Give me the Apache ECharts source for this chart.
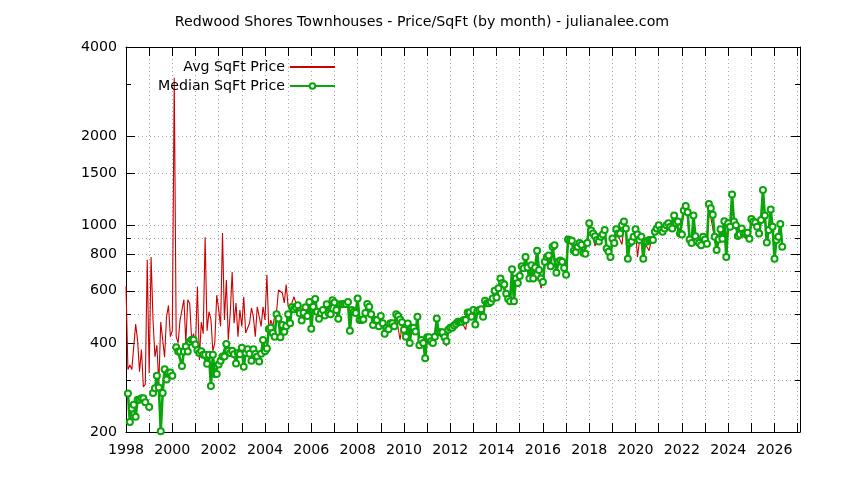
<!DOCTYPE html>
<html><head><meta charset="utf-8">
<script src="https://cdn.jsdelivr.net/npm/echarts@6/dist/echarts.min.js"></script>
<style>html,body{margin:0;padding:0;background:#fff}#c{width:844px;height:480px}</style>
</head><body><div id="c"></div>
<script>
const FONT = 'DejaVu Sans';
const startYear = 1998;
// monthly values, Jan 1998 onward
const avgPrice = [
 620, 325, 337, 325, 329, 463, 409, 320, 380, 284, 290, 764,
 316, 780, 478, 359, 393, 290, 471, 478, 358, 490, 535, 420,
 440, 3150, 420, 400, 478, 478, 560, 400, 560, 545, 410, 430,
 390, 620, 350, 470, 430, 910, 440, 510, 480, 375, 400, 580,
 520, 455, 940, 478, 653, 409, 504, 694, 466, 546, 420, 517,
 455, 573, 432, 432, 466, 525, 490, 420, 530, 525, 455, 530,
 478, 680, 440, 478, 455, 490, 510, 604, 610, 590, 546, 630,
 530, 525, 546, 573, 546, 530, 546, 510, 530, 504, 546, 558,
 460, 520, 555, 500, 490, 510, 505, 500, 530, 510, 505, 550,
 540, 520, 490, 530, 535, 540, 535, 545, 455, 530, 520, 500,
 555, 490, 480, 485, 500, 535, 520, 495, 465, 470, 480, 450,
 485, 460, 425, 445, 440, 460, 470, 450, 490, 485, 410, 455,
 409, 430, 455, 405, 445, 445, 430, 480, 395, 405, 395, 360,
 410, 415, 400, 395, 415, 470, 430, 420, 430, 415, 390, 435,
 440, 445, 455, 460, 465, 468, 470, 472, 443, 500, 500, 485,
 510, 465, 505, 510, 515, 492, 545, 540, 540, 545, 560, 590,
 565, 600, 640, 625, 620, 580, 560, 545, 680, 550, 640, 620,
 660, 700, 700, 760, 705, 650, 715, 650, 700, 790, 690, 612,
 640, 735, 770, 775, 720, 830, 840, 690, 745, 750, 740, 710,
 675, 870, 870, 860, 815, 800, 830, 860, 850, 800, 790, 860,
 990, 940, 920, 850, 880, 870, 900, 915, 945, 830, 760, 775,
 880, 860, 950, 920, 925, 860, 1000, 960, 765, 855, 870, 900,
 950, 781, 880, 900, 770, 865, 870, 820, 880, 885, 935, 960,
 985, 950, 940, 960, 985, 1000, 975, 965, 1050, 1000, 1010, 925,
 920, 1100, 1130, 1060, 885, 860, 1060, 905, 870, 860, 845, 900,
 880, 855, 1150, 1060, 1070, 900, 815, 880, 950, 890, 1010, 780,
 1000, 975, 1240, 1015, 985, 910, 920, 960, 925, 900, 930, 890,
 1030, 1015, 1000, 975, 925, 1025, 1280, 1060, 865, 950, 1110, 975,
 770, 880, 900, 990, 840
];
const medianPrice = [
 null, 270, 216, 240, 247, 225, 257, 257, 260, 260, 252, null,
 243, null, 271, 281, 310, 283, 201, 271, 326, 301, 317, 318,
 310, null, 387, 374, 374, 334, 374, 389, 374, 404, 410, 410,
 395, 378, 370, 375, 365, 365, 340, 365, 286, 365, 314, 314,
 338, 348, 360, 360, 397, 376, 370, 376, 366, 341, 370, 366,
 385, 332, 370, 381, 368, 348, 381, 368, 360, 346, 368, 409,
 375, 383, 446, 450, 432, 420, 500, 484, 418, 460, 436, 455,
 500, 466, 528, 520, 528, 536, 504, 476, 506, 528, 493, 550,
 447, 530, 563, 510, 483, 505, 517, 495, 540, 505, 500, 558,
 548, 517, 483, 540, 540, 542, 542, 550, 440, 517, 510, 505,
 565, 478, 478, 480, 505, 542, 530, 500, 460, 478, 478, 455,
 493, 466, 430, 450, 445, 466, 466, 455, 500, 493, 480, 470,
 443, 420, 465, 400, 450, 450, 437, 490, 393, 409, 400, 355,
 418, 418, 405, 400, 420, 484, 435, 435, 435, 418, 405, 443,
 450, 450, 458, 464, 472, 472, 472, 478, 478, 507, 507, 490,
 517, 462, 512, 517, 520, 490, 555, 545, 545, 550, 565, 600,
 570, 612, 660, 638, 630, 587, 563, 553, 710, 553, 660, 638,
 673, 727, 715, 781, 720, 660, 732, 660, 720, 820, 705, 660,
 643, 752, 781, 790, 727, 845, 855, 690, 752, 760, 752, 717,
 680, 895, 890, 885, 820, 810, 845, 870, 858, 805, 800, 870,
 1015, 960, 937, 918, 891, 880, 914, 930, 963, 834, 813, 781,
 902, 870, 968, 937, 937, 1000, 1028, 975, 770, 870, 880, 914,
 968, 930, 891, 914, 770, 880, 880, 891, 891, 891, 950, 975,
 1000, 963, 950, 975, 1000, 1015, 988, 975, 1078, 1015, 1028, 937,
 930, 1120, 1160, 1106, 895, 870, 1078, 918, 880, 870, 855, 914,
 895, 866, 1180, 1140, 1085, 914, 824, 895, 968, 900, 1030, 781,
 1015, 988, 1270, 1028, 1000, 920, 930, 975, 937, 937, 942, 900,
 1050, 1028, 1020, 988, 937, 1041, 1315, 1078, 873, 963, 1130, 988,
 770, 891, 914, 1010, 845
];
const yLabelTicks = [200, 400, 600, 800, 1000, 1500, 2000, 4000];
const yMinorTicks = [300, 500, 700, 900, 3000];
const yGridLines = [300, 400, 500, 600, 700, 800, 900, 1000, 1500, 2000];
const xLabelYears = [1998, 2000, 2002, 2004, 2006, 2008, 2010, 2012, 2014, 2016, 2018, 2020, 2022, 2024, 2026];
const xTickYears = [1998,1999,2000,2001,2002,2003,2004,2005,2006,2007,2008,2009,2010,2011,2012,2013,2014,2015,2016,2017,2018,2019,2020,2021,2022,2023,2024,2025,2026,2027];
const xMin = 1998, xMax = 2027.1;

const monthPos = avgPrice.map((_, i) => startYear + i / 12);
const avgData = monthPos.map((x, i) => [x, avgPrice[i]]);
const medData = monthPos.map((x, i) => [x, medianPrice[i] == null ? '-' : medianPrice[i]]);

const gridLine = {color: '#a8a8a8', width: 1, type: [1, 3]};
const black = {color: '#000', width: 1};
const FS = 14.2;
const lab = {fontFamily: FONT, fontSize: FS, color: '#000'};
const yBase = {type: 'log', logBase: 10, min: 200, max: 4000, gridIndex: 0};
const GREEN = '#0aa50a', RED = '#cc0000';

const chart = echarts.init(document.getElementById('c'), null, {renderer: 'canvas'});
chart.setOption({
  animation: false,
  backgroundColor: '#fff',
  title: {
    text: 'Redwood Shores Townhouses - Price/SqFt (by month) - julianalee.com',
    left: 'center', top: 10,
    textStyle: {fontFamily: FONT, fontSize: FS, fontWeight: 'normal', color: '#000'}
  },
  legend: {
    orient: 'vertical', align: 'right', left: 153, top: 55,
    itemWidth: 45, itemHeight: 7, itemGap: 5, selectedMode: false,
    textStyle: lab,
    data: [
      {name: 'Avg SqFt Price', itemStyle: {opacity: 0}},
      {name: 'Median SqFt Price'}
    ]
  },
  grid: {left: 126, right: 44, top: 47, bottom: 48, containLabel: false},
  xAxis: [
    {type: 'value', position: 'bottom', min: xMin, max: xMax,
     axisLine: {show: true, onZero: false, lineStyle: black},
     axisTick: {show: true, inside: true, length: 9, customValues: xTickYears, lineStyle: black},
     axisLabel: {show: true, customValues: xLabelYears, formatter: v => String(Math.round(v)), margin: 11, ...lab},
     splitLine: {show: true, lineStyle: gridLine}},
    {type: 'value', position: 'top', min: xMin, max: xMax,
     axisLine: {show: true, onZero: false, lineStyle: black},
     axisTick: {show: true, inside: true, length: 9, customValues: xTickYears, lineStyle: black},
     axisLabel: {show: false}, splitLine: {show: false}}
  ],
  yAxis: [
    {...yBase, position: 'left',
     axisLine: {show: true, onZero: false, lineStyle: black},
     axisTick: {show: true, inside: true, length: 9, customValues: yLabelTicks, lineStyle: black},
     axisLabel: {show: true, customValues: yLabelTicks, formatter: v => String(Math.round(v)), margin: 9, ...lab},
     splitLine: {show: false}},
    {...yBase, position: 'left',
     axisLine: {show: false},
     axisTick: {show: true, inside: true, length: 5, customValues: yMinorTicks, lineStyle: black},
     axisLabel: {show: false}, splitLine: {show: false}},
    {...yBase, position: 'right',
     axisLine: {show: true, onZero: false, lineStyle: black},
     axisTick: {show: true, inside: true, length: 9, customValues: yLabelTicks, lineStyle: black},
     axisLabel: {show: false}, splitLine: {show: false}},
    {...yBase, position: 'right',
     axisLine: {show: false},
     axisTick: {show: true, inside: true, length: 5, customValues: yMinorTicks, lineStyle: black},
     axisLabel: {show: false}, splitLine: {show: false}},
    {...yBase, position: 'left',
     axisLine: {show: false},
     axisTick: {show: false, customValues: yGridLines},
     axisLabel: {show: false},
     splitLine: {show: true, lineStyle: gridLine}}
  ],
  series: [
    {name: 'Avg SqFt Price', type: 'line', xAxisIndex: 0, yAxisIndex: 0,
     data: avgData, symbol: 'none', z: 2,
     lineStyle: {color: RED, width: 1.1}, itemStyle: {color: RED}},
    {name: 'Median SqFt Price', type: 'line', xAxisIndex: 0, yAxisIndex: 0,
     data: medData, z: 3, connectNulls: false,
     symbol: 'emptyCircle', symbolSize: 6, showAllSymbol: true,
     lineStyle: {color: GREEN, width: 2.6},
     itemStyle: {color: GREEN, borderWidth: 1.5}}
  ]
});
</script>
</body></html>
